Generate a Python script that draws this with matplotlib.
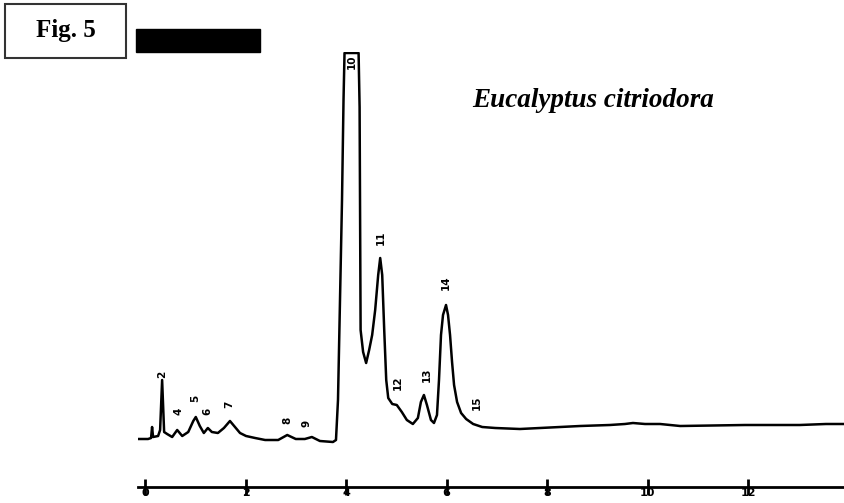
import matplotlib
matplotlib.use("Agg")
import matplotlib.pyplot as plt
from matplotlib.patches import Rectangle

# Retention time (min) and detector response (arbitrary units)
time_min = [-0.14, 0.06, 0.12, 0.14, 0.16, 0.26, 0.30, 0.34, 0.38, 0.44, 0.54, 0.64,
            0.74, 0.86, 0.96, 1.01, 1.09, 1.17, 1.25, 1.33, 1.45, 1.57, 1.69, 1.79,
            1.89, 2.01, 2.19, 2.39, 2.65, 2.83, 3.00, 3.18, 3.32, 3.48, 3.74, 3.80,
            3.84, 3.88, 3.92, 3.95, 3.97, 4.25, 4.27, 4.29, 4.34, 4.40, 4.46, 4.52,
            4.58, 4.64, 4.68, 4.72, 4.76, 4.80, 4.84, 4.92, 5.01, 5.11, 5.21, 5.33,
            5.43, 5.49, 5.55, 5.61, 5.69, 5.75, 5.81, 5.85, 5.89, 5.93, 5.99, 6.03,
            6.07, 6.11, 6.15, 6.21, 6.29, 6.39, 6.53, 6.71, 6.97, 7.46, 7.86, 8.26,
            8.66, 9.25, 9.55, 9.71, 9.95, 10.25, 10.65, 11.94, 13.03, 13.55, 13.93]
response = [48, 48, 49, 60, 50, 51, 57, 107, 55, 53, 50, 57,
            51, 55, 66, 70, 61, 54, 59, 55, 54, 59, 66, 60,
            54, 51, 49, 47, 47, 52, 48, 48, 50, 46, 45, 47,
            87, 187, 287, 387, 434, 434, 380, 157, 135, 124, 137, 152,
            177, 212, 229, 212, 157, 107, 89, 83, 82, 75, 67, 63,
            69, 85, 92, 82, 67, 64, 72, 107, 152, 172, 182, 172,
            152, 125, 102, 85, 74, 68, 63, 60, 59, 58, 59, 60,
            61, 62, 63, 64, 63, 63, 61, 62, 62, 63, 63]

# Peak numbers and their label positions
peak_labels = ["2", "4", "5", "6", "7", "8", "9", "10", "11", "12", "13", "14", "15"]
label_time = [0.34, 0.66, 0.99, 1.25, 1.67, 2.83, 3.22, 4.11, 4.70, 5.03, 5.61, 5.99, 6.61]
label_resp = [113, 76, 89, 76, 83, 67, 64, 425, 249, 104, 112, 204, 84]

x_ticks = [0, 2, 4, 6, 8, 10, 12]

fig = plt.figure(figsize=(8.45, 5.03), dpi=100)
ax = fig.add_axes([138 / 845, 1 - 487 / 503, 1 - 138 / 845, (487 - 52) / 503])
ax.plot(time_min, response, color="black", lw=1.8, solid_joinstyle="round")
ax.set_xlim(-0.14, 13.93)
ax.set_ylim(0, 435)

for lab, t, r in zip(peak_labels, label_time, label_resp):
    ax.text(t, r, lab, rotation=90, ha="center", va="center", fontsize=7.5,
            fontweight="bold", family="DejaVu Sans", color="black")

for s in ["left", "right", "top"]:
    ax.spines[s].set_visible(False)
ax.spines["bottom"].set_linewidth(2)
ax.set_yticks([])
ax.set_xticks(x_ticks)
ax.set_xticklabels([str(v) for v in x_ticks], fontsize=8, fontweight="bold")
ax.tick_params(axis="x", direction="inout", length=12, width=2, pad=-5)

# Figure label box
fig.patches.append(Rectangle((5 / 845, 1 - 58 / 503), 121 / 845, 54 / 503,
                             transform=fig.transFigure, fill=False,
                             edgecolor="#333333", lw=1.5))
fig.text(66 / 845, 1 - 31 / 503, "Fig. 5", ha="center", va="center",
         fontsize=18, fontweight="bold", family="Liberation Serif")
# Black redaction bar
fig.patches.append(Rectangle((136 / 845, 1 - 52 / 503), 124 / 845, 23 / 503,
                             transform=fig.transFigure, color="black"))

fig.text(472 / 845, 1 - 107 / 503, "Eucalyptus citriodora", ha="left",
         va="baseline", fontsize=19.5, fontweight="bold", fontstyle="italic",
         family="Liberation Serif")

fig.savefig("out.png", dpi=100)
